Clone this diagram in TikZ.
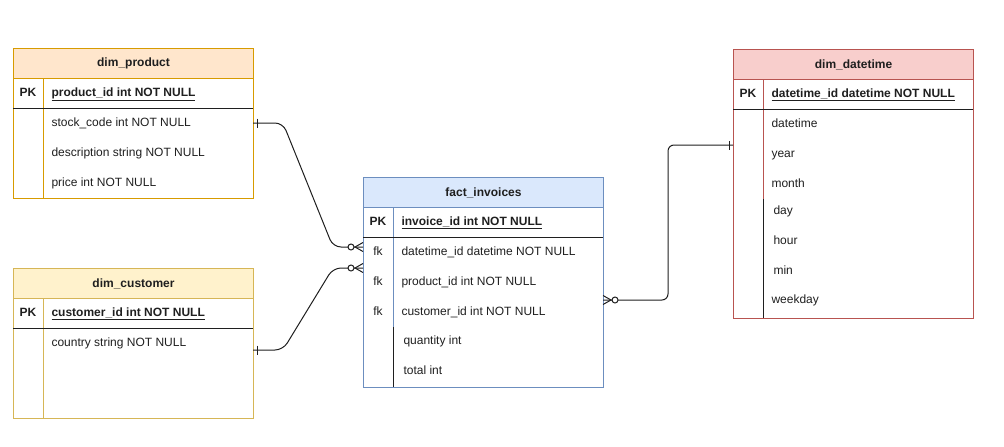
\documentclass[tikz,border=0pt]{standalone}
\usepackage{fontspec}
\setmainfont{Liberation Sans}
\definecolor{ink}{HTML}{1F1F1F}
\definecolor{orangefill}{HTML}{FFE6CC}
\definecolor{orangeline}{HTML}{D79B00}
\definecolor{yellowfill}{HTML}{FFF2CC}
\definecolor{yellowline}{HTML}{D6B656}
\definecolor{bluefill}{HTML}{DAE8FC}
\definecolor{blueline}{HTML}{6C8EBF}
\definecolor{redfill}{HTML}{F8CECC}
\definecolor{redline}{HTML}{B85450}

\begin{document}
\begin{tikzpicture}[x=1pt,y=-1pt,font=\fontsize{12}{14}\selectfont,text=ink,line width=1pt,
  head/.style={draw,minimum width=240pt,minimum height=30pt,inner sep=0pt,
    anchor=north west,font=\fontsize{12}{14}\selectfont\bfseries},
  body/.style={draw,minimum width=240pt,inner sep=0pt,anchor=north west},
  field/.style={anchor=west,inner sep=0pt,text height=8.6pt,text depth=2.6pt},
  keyfield/.style={field,font=\fontsize{12}{14}\selectfont\bfseries},
  keycol/.style={inner sep=0pt,text height=8.6pt,text depth=2.6pt},
  link/.style={ink,rounded corners=8pt},
  onebar/.pic={\draw[ink] (4,-4.5)--(4,4.5);},
  zeromany/.pic={\draw[ink] (0,-4.5)--(-8,0)--(0,4.5);
    \draw[ink,fill=white] (-12,0) circle (3pt);}]
  \useasboundingbox (0,0) rectangle (1004,447);

  % dim_product
  \node[body,draw=orangeline,minimum height=120pt] (prodbody) at (13,78) {};
  \draw[orangeline] (43,78)--(43,198);
  \draw[ink] (13,108)--(253,108);
  \node[head,fill=orangefill,draw=orangeline] (prodhead) at (13,48) {dim\_product};
  \node[keycol,font=\fontsize{12}{14}\selectfont\bfseries] (prodpk) at (28,93) {PK};
  \node[keyfield] (prodid) at (51,93) {\underline{product\_id int NOT NULL}};
  \foreach \txt/\y [count=\i] in {stock\_code int NOT NULL/123,
      description string NOT NULL/153,price int NOT NULL/183}
    \node[field] (prod\i) at (51,\y) {\txt};

  % dim_customer
  \node[body,draw=yellowline,minimum height=120pt] (custbody) at (13,298) {};
  \draw[yellowline] (43,298)--(43,418);
  \draw[ink] (13,328)--(253,328);
  \node[head,fill=yellowfill,draw=yellowline] (custhead) at (13,268) {dim\_customer};
  \node[keycol,font=\fontsize{12}{14}\selectfont\bfseries] (custpk) at (28,313) {PK};
  \node[keyfield] (custid) at (51,313) {\underline{customer\_id int NOT NULL}};
  \node[field] (cust1) at (51,343) {country string NOT NULL};

  % fact_invoices
  \node[body,draw=blueline,minimum height=180pt] (factbody) at (363,207) {};
  \draw[blueline] (393,207)--(393,327);
  \draw[ink] (393,327)--(393,387);
  \draw[ink] (363,237)--(603,237);
  \node[head,fill=bluefill,draw=blueline] (facthead) at (363,177) {fact\_invoices};
  \node[keycol,font=\fontsize{12}{14}\selectfont\bfseries] (factpk) at (378,222) {PK};
  \node[keyfield] (factid) at (401,222) {\underline{invoice\_id int NOT NULL}};
  \foreach \txt/\y [count=\i] in {datetime\_id datetime NOT NULL/252,
      product\_id int NOT NULL/282,customer\_id int NOT NULL/312}{
    \node[keycol] (factfk\i) at (378,\y) {fk};
    \node[field] (fact\i) at (401,\y) {\txt};
  }
  \node[field] (fact4) at (403,341) {quantity int};
  \node[field] (fact5) at (403,371) {total int};

  % dim_datetime
  \node[body,draw=redline,minimum height=239pt] (dtbody) at (733,79) {};
  \draw[redline] (763,79)--(763,199);
  \draw[ink] (763,199)--(763,318);
  \draw[ink] (733,109)--(973,109);
  \node[head,fill=redfill,draw=redline] (dthead) at (733,49) {dim\_datetime};
  \node[keycol,font=\fontsize{12}{14}\selectfont\bfseries] (dtpk) at (748,94) {PK};
  \node[keyfield] (dtid) at (771,94) {\underline{datetime\_id datetime NOT NULL}};
  \foreach \txt/\x/\y [count=\i] in {datetime/771/124,year/771/154,month/771/184,
      day/773/211,hour/773/241,min/773/271,weekday/771/300}
    \node[field] (dt\i) at (\x,\y) {\txt};

  % relationships
  \coordinate (prodout) at (253,123);
  \coordinate (custout) at (253,350);
  \coordinate (factin1) at (363,247);
  \coordinate (factin2) at (363,268);
  \coordinate (factout) at (603,300);
  \coordinate (dtin) at (733,145);
  \draw[link] (prodout)--++(30,0)--([xshift=-30pt]factin1)--(factin1);
  \draw[link] (custout)--++(30,0)--([xshift=-30pt]factin2)--(factin2);
  \draw[link,rounded corners=6pt] (factout)--++(65,0)|-(dtin);
  \pic at (prodout) {onebar};
  \pic at (custout) {onebar};
  \pic at (factin1) {zeromany};
  \pic at (factin2) {zeromany};
  \pic[rotate=180] at (factout) {zeromany};
  \pic[rotate=180] at (dtin) {onebar};
\end{tikzpicture}
\end{document}
